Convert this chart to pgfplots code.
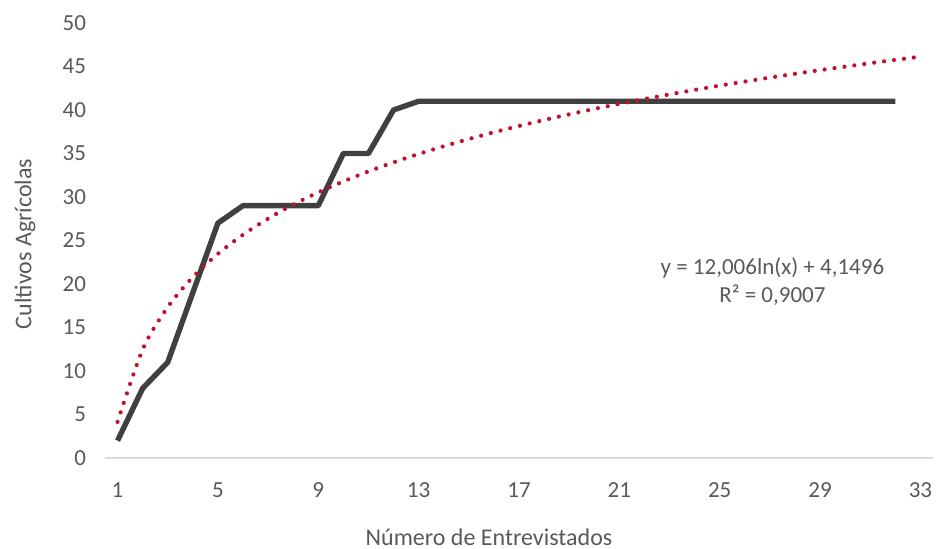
\documentclass[border=0pt]{standalone}
\usepackage{fontspec}
\setmainfont{Carlito}
\usepackage{pgfplots}
\pgfplotsset{compat=1.18}
\definecolor{txt}{HTML}{595959}
\definecolor{dline}{HTML}{404040}
\definecolor{trend}{HTML}{C0102A}
\begin{document}
\begin{tikzpicture}
\path[use as bounding box] (0,0) rectangle (468pt,274.5pt);
\begin{axis}[
  at={(52.5pt,45.5pt)}, anchor=south west,
  scale only axis, width=414pt, height=217.5pt,
  xmin=0.5, xmax=33.5, ymin=0, ymax=50,
  xtick={1,5,...,33}, ytick={0,5,...,50},
  separate axis lines,
  axis x line*=bottom, axis y line*=left,
  x axis line style={draw=black!15, line width=1.2pt, -},
  y axis line style={draw=none, -},
  major tick length=0pt,
  tick label style={font=\fontsize{11.5}{13}\selectfont, text=txt},
  /pgf/number format/assume math mode=true,
  yticklabel style={anchor=east, xshift=-6pt},
  xticklabel style={anchor=north, yshift=-9pt},
  clip=false,
]
\addplot[dline, line width=2.7pt, line join=round] coordinates {
(1,2) (2,8) (3,11) (4,19) (5,27) (6,29) (7,29) (8,29) (9,29) (10,35)
(11,35) (12,40) (13,41) (14,41) (15,41) (16,41) (17,41) (18,41) (19,41)
(20,41) (21,41) (22,41) (23,41) (24,41) (25,41) (26,41) (27,41) (28,41)
(29,41) (30,41) (31,41) (32,41)
};
\addplot[trend, line width=2.1pt, line cap=round, dash pattern=on 0pt off 5pt, smooth] coordinates {
(1,4.15) (2,12.47) (3,17.34) (4,20.79) (5,23.47) (6,25.66) (7,27.51)
(8,29.12) (9,30.53) (10,31.79) (11,32.94) (12,33.98) (13,34.94) (14,35.83)
(15,36.66) (16,37.44) (17,38.16) (18,38.85) (19,39.50) (20,40.12) (21,40.70)
(22,41.26) (23,41.79) (24,42.31) (25,42.80) (26,43.27) (27,43.72) (28,44.16)
(29,44.58) (30,44.98) (31,45.38) (32,45.76) (33,46.13)
};
\node[text=txt, align=center, font=\fontsize{11.5}{14}\selectfont] at (axis cs:27.1,20.3)
  {y = 12,006ln(x) + 4,1496\\R² = 0,9007};
\end{axis}
\node[rotate=90, text=txt, font=\fontsize{12}{14}\selectfont] at (12.5pt,152.5pt) {Cultivos Agrícolas};
\node[text=txt, font=\fontsize{12}{14}\selectfont] at (244.5pt,6pt) {Número de Entrevistados};
\end{tikzpicture}
\end{document}
